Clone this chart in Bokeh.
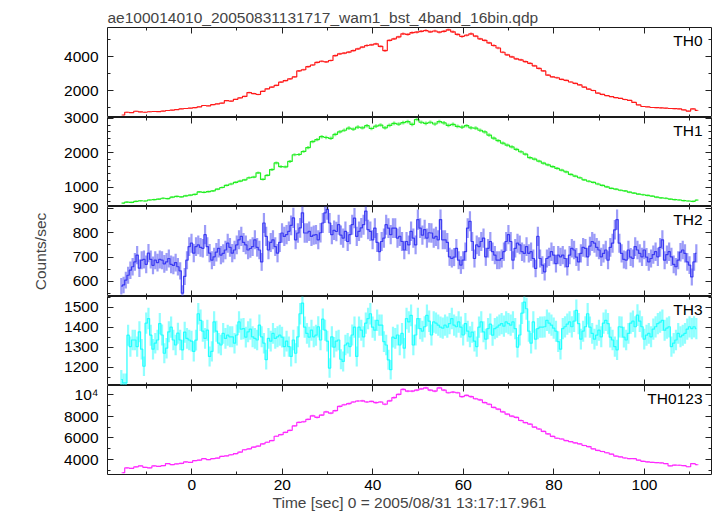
import numpy as np
from bokeh.plotting import figure
from bokeh.models import Range1d, LinearAxis, FixedTicker, Label
from bokeh.layouts import column
from bokeh.embed import file_html
from bokeh.resources import INLINE

# ---------------- data ----------------
TITLE = "ae100014010_20050831131717_wam1_bst_4band_16bin.qdp"
X_LABEL = "Time [sec] 0 = 2005/08/31 13:17:17.961"
Y_LABEL = "Counts/sec"
NAMES = ["TH0", "TH1", "TH2", "TH3", "TH0123"]

T_START = -15.8      # start of first time bin [s]
DT_SMOOTH = 1.0      # bin width used for TH0, TH1, TH0123
DT_NOISY = 0.5       # bin width used for TH2, TH3

th0 = [560, 720, 700, 780, 740, 720, 750, 765, 760, 790,
       824, 840, 880, 922, 940, 960, 990, 1040, 1118, 1100,
       1170, 1216, 1260, 1400, 1380, 1480, 1569, 1650, 1880, 1820,
       1765, 1950, 2098, 2200, 2300, 2490, 2580, 2686, 2800, 3150,
       3220, 3400, 3500, 3650, 3720, 3680, 3765, 4050, 4157, 4200,
       4255, 4350, 4451, 4550, 4647, 4680, 4745, 4600, 4350, 4950,
       5039, 5150, 5333, 5300, 5400, 5431, 5480, 5529, 5450, 5500,
       5431, 5480, 5569, 5450, 5300, 5176, 5250, 5333, 5200, 5039,
       4950, 4800, 4647, 4500, 4250, 4100, 3980, 3863, 3800, 3700,
       3600, 3450, 3300, 3150, 2900, 2800, 2750, 2650, 2600, 2500,
       2420, 2330, 2200, 2080, 2000, 1850, 1770, 1700, 1640, 1580,
       1540, 1470, 1420, 1300, 1150, 1060, 1040, 1000, 990, 980,
       960, 940, 930, 920, 860, 790, 920, 830]

th1 = [550, 580, 570, 600, 617, 610, 640, 650, 665, 690,
       680, 720, 741, 730, 760, 778, 800, 872, 860, 880,
       901, 950, 1000, 1063, 1100, 1150, 1185, 1220, 1281, 1300,
       1423, 1233, 1350, 1517, 1707, 1600, 1594, 1750, 1943, 1950,
       2037, 2150, 2321, 2380, 2463, 2440, 2418, 2530, 2605, 2650,
       2710, 2680, 2740, 2720, 2780, 2700, 2767, 2800, 2720, 2790,
       2850, 2824, 2870, 2900, 2820, 2960, 2880, 2850, 2880, 2830,
       2900, 2860, 2790, 2820, 2760, 2739, 2780, 2720, 2710, 2650,
       2600, 2511, 2420, 2350, 2280, 2220, 2170, 2100, 2030, 1960,
       1858, 1820, 1760, 1700, 1650, 1602, 1550, 1500, 1450, 1375,
       1330, 1280, 1220, 1180, 1148, 1100, 1060, 1020, 977, 950,
       920, 900, 864, 840, 810, 790, 770, 750, 720, 700,
       690, 665, 650, 640, 620, 610, 600, 636]

th2 = [580, 585, 605, 625, 646, 660, 680, 708, 654, 687,
       690, 670, 716, 690, 666, 687, 677, 690, 687, 672,
       680, 694, 670, 666, 677, 660, 643, 551, 620, 687,
       743, 757, 716, 743, 750, 740, 736, 792, 743, 716,
       687, 701, 720, 736, 708, 715, 729, 757, 740, 716,
       729, 750, 771, 785, 760, 750, 729, 735, 743, 771,
       740, 729, 680, 840, 785, 729, 760, 771, 743, 716,
       760, 799, 785, 792, 806, 830, 861, 771, 799, 820,
       882, 799, 799, 806, 785, 790, 792, 771, 800, 840,
       882, 896, 840, 792, 810, 805, 833, 790, 778, 806,
       764, 792, 833, 860, 785, 806, 820, 833, 889, 813,
       806, 771, 819, 760, 722, 764, 778, 833, 819, 792,
       819, 819, 778, 785, 764, 729, 764, 750, 806, 778,
       750, 854, 819, 790, 813, 778, 800, 799, 778, 785,
       771, 854, 771, 771, 760, 701, 694, 700, 736, 687,
       667, 687, 722, 819, 847, 764, 694, 750, 743, 764,
       778, 701, 736, 764, 722, 708, 687, 687, 694, 722,
       764, 792, 764, 687, 736, 757, 750, 722, 715, 743,
       715, 722, 694, 653, 785, 694, 667, 639, 694, 701,
       722, 708, 673, 708, 701, 708, 694, 660, 708, 736,
       729, 700, 680, 715, 740, 736, 701, 745, 764, 757,
       740, 729, 701, 715, 729, 687, 740, 757, 812, 854,
       757, 715, 690, 687, 729, 700, 694, 743, 729, 715,
       701, 729, 700, 680, 694, 710, 722, 701, 740, 771,
       687, 710, 722, 701, 670, 660, 687, 720, 729, 715,
       680, 667, 618, 680, 715]

th3 = [1139, 1122, 1122, 1360, 1303, 1336, 1336, 1303, 1377, 1290,
       1205, 1420, 1443, 1360, 1290, 1320, 1336, 1418, 1361, 1270,
       1295, 1377, 1400, 1336, 1311, 1370, 1336, 1287, 1375, 1344,
       1336, 1330, 1279, 1335, 1467, 1434, 1380, 1344, 1385, 1254,
       1279, 1426, 1380, 1320, 1311, 1369, 1344, 1360, 1352, 1352,
       1320, 1361, 1426, 1390, 1393, 1350, 1377, 1390, 1352, 1344,
       1336, 1410, 1352, 1320, 1238, 1344, 1330, 1369, 1344, 1352,
       1360, 1350, 1303, 1330, 1303, 1254, 1336, 1270, 1352, 1467,
       1520, 1400, 1369, 1350, 1385, 1352, 1360, 1402, 1336, 1440,
       1385, 1330, 1196, 1352, 1300, 1330, 1336, 1240, 1229, 1311,
       1320, 1303, 1361, 1400, 1254, 1400, 1385, 1352, 1420, 1443,
       1467, 1400, 1385, 1434, 1410, 1410, 1328, 1311, 1237, 1188,
       1350, 1344, 1361, 1311, 1369, 1295, 1443, 1426, 1459, 1311,
       1361, 1443, 1393, 1380, 1402, 1459, 1430, 1361, 1426, 1420,
       1410, 1400, 1395, 1410, 1400, 1418, 1443, 1410, 1402, 1426,
       1400, 1361, 1418, 1380, 1352, 1375, 1330, 1303, 1400, 1426,
       1377, 1340, 1393, 1415, 1360, 1393, 1400, 1410, 1418, 1405,
       1426, 1418, 1410, 1426, 1393, 1300, 1361, 1470, 1525, 1492,
       1380, 1320, 1426, 1340, 1393, 1400, 1400, 1402, 1434, 1420,
       1410, 1395, 1380, 1328, 1290, 1393, 1402, 1415, 1426, 1402,
       1430, 1484, 1418, 1340, 1380, 1402, 1467, 1400, 1369, 1340,
       1360, 1385, 1352, 1420, 1434, 1418, 1350, 1336, 1303, 1287,
       1402, 1400, 1350, 1336, 1369, 1420, 1430, 1402, 1460, 1430,
       1402, 1340, 1360, 1369, 1352, 1390, 1402, 1418, 1425, 1434,
       1385, 1395, 1402, 1303, 1320, 1336, 1369, 1352, 1360, 1369,
       1390, 1402, 1393, 1402, 1393]

th0123 = [2800, 3244, 3200, 3334, 3425, 3300, 3244, 3425, 3380, 3450,
          3637, 3550, 3607, 3650, 3789, 3750, 3910, 3950, 4092, 4000,
          4092, 4150, 4304, 4350, 4450, 4546, 4700, 4910, 5000, 5152,
          5250, 5455, 5600, 5758, 6152, 6300, 6516, 6700, 7100, 7425,
          7486, 7700, 8031, 7880, 8100, 8395, 8273, 8500, 8900, 9050,
          9150, 9300, 9395, 9400, 9300, 9350, 9243, 9300, 9092, 9400,
          9698, 10000, 10455, 10300, 10304, 10400, 10500, 10607, 10400, 10304,
          10607, 10400, 10152, 10200, 10152, 9788, 9910, 9800, 9600, 9500,
          9250, 9092, 8800, 8637, 8400, 8183, 8000, 7880, 7600, 7400,
          7273, 7000, 6819, 6600, 6364, 6150, 5970, 5900, 5758, 5650,
          5546, 5450, 5304, 5200, 5000, 4849, 4750, 4637, 4500, 4334,
          4250, 4152, 4100, 4092, 3950, 3850, 3789, 3750, 3728, 3700,
          3637, 3425, 3500, 3486, 3450, 3350, 3637, 3546]

SERIES = [th0, th1, th2, th3, th0123]
BIN_WIDTHS = [DT_SMOOTH, DT_SMOOTH, DT_NOISY, DT_NOISY, DT_SMOOTH]

# axis ranges / ticks
X_RANGE = (-18.6, 114.8)
X_MAJOR = [0, 20, 40, 60, 80, 100]
X_MINOR = [-10, 10, 30, 50, 70, 90, 110]
Y_RANGES = [(412, 5706), (452, 3017), (537.5, 908), (1109, 1553), (2636, 10818)]
Y_MAJOR = [[2000, 4000], [1000, 2000, 3000], [600, 700, 800, 900],
           [1200, 1300, 1400, 1500], [4000, 6000, 8000, 10000]]
Y_MINOR = [[1000, 3000, 5000],
           [600, 800, 1200, 1400, 1600, 1800, 2200, 2400, 2600, 2800],
           [550, 650, 750, 850],
           [1150, 1250, 1350, 1450, 1550],
           [3000, 5000, 7000, 9000]]
Y_OVERRIDES = [{}, {}, {}, {}, {10000: "10\u2074"}]

# ---------------- style ----------------
COLORS = ["#ff1a1a", "#22ee22", "#3a3af2", "#22ffff", "#ff2aff"]
FONT = "Liberation Sans"
FS = "15.5px"
FRAME_W = 604
FRAME_HS = [90, 89, 90, 89, 89]
LEFT = 107
TOP = 27
OVER = 10


def axis(ticks, minor, show_labels=False, overrides=None):
    ax = LinearAxis(ticker=FixedTicker(ticks=ticks, minor_ticks=minor),
                    major_tick_in=6, major_tick_out=0,
                    minor_tick_in=3, minor_tick_out=0,
                    axis_line_color=None,
                    major_tick_line_color="#222222",
                    minor_tick_line_color="#222222")
    if show_labels:
        ax.major_label_text_font = FONT
        ax.major_label_text_font_size = FS
        ax.major_label_text_color = "black"
        if overrides:
            ax.major_label_overrides = overrides
    else:
        ax.major_label_text_font_size = "0px"
        ax.major_label_text_color = None
        ax.major_label_standoff = 0
    return ax


xr = Range1d(*X_RANGE)
figs = []
n = len(SERIES)
for i, (vals, dt) in enumerate(zip(SERIES, BIN_WIDTHS)):
    v = np.array(vals, dtype=float)
    t = T_START + dt * (np.arange(len(v)) + 0.5)
    err = np.sqrt(v / dt)     # Poisson error of a rate in a bin of width dt
    yr = Range1d(*Y_RANGES[i])
    p = figure(frame_width=FRAME_W, frame_height=FRAME_HS[i], x_range=xr, y_range=yr,
               output_backend="svg", toolbar_location=None,
               x_axis_location=None, y_axis_location=None,
               min_border_left=LEFT, min_border_right=2,
               min_border_top=TOP if i == 0 else OVER, min_border_bottom=0)
    p.grid.visible = False
    p.outline_line_color = "#1a1a1a"
    p.outline_line_width = 1
    if i > 0:
        p.border_fill_color = None
        p.margin = (-OVER, 0, 0, 0)

    left = axis(Y_MAJOR[i], Y_MINOR[i], True, Y_OVERRIDES[i])
    left.major_label_standoff = 9
    if i == 2:
        left.axis_label = Y_LABEL
        left.axis_label_text_font = FONT
        left.axis_label_text_font_size = FS
        left.axis_label_text_font_style = "normal"
        left.axis_label_standoff = 21
    p.add_layout(left, "left")
    p.add_layout(axis(Y_MAJOR[i], Y_MINOR[i]), "right")
    p.add_layout(axis(X_MAJOR, X_MINOR), "above")
    last = i == n - 1
    bottom = axis(X_MAJOR, X_MINOR, last)
    if last:
        bottom.major_label_standoff = 5
        bottom.axis_label = X_LABEL
        bottom.axis_label_text_font = FONT
        bottom.axis_label_text_font_size = FS
        bottom.axis_label_text_font_style = "normal"
        bottom.axis_label_standoff = 1
    p.add_layout(bottom, "below")

    c = COLORS[i]
    p.segment(t, v - err, t, v + err, line_color=c, line_alpha=0.5, line_width=2.2)
    p.step(t, v, mode="center", line_color=c, line_width=1.2)

    p.add_layout(Label(x=X_RANGE[1], y=Y_RANGES[i][1], x_offset=-9, y_offset=-4,
                       text=NAMES[i], text_align="right", text_baseline="top",
                       text_font=FONT, text_font_size=FS, text_color="black"))
    if i == 0:
        p.title.text = TITLE
        p.title.align = "left"
        p.title.text_font = FONT
        p.title.text_font_size = FS
        p.title.text_font_style = "normal"
        p.title.standoff = 4
    figs.append(p)

layout = column(*figs, spacing=0)
open("out.html", "w").write(file_html(layout, INLINE))
